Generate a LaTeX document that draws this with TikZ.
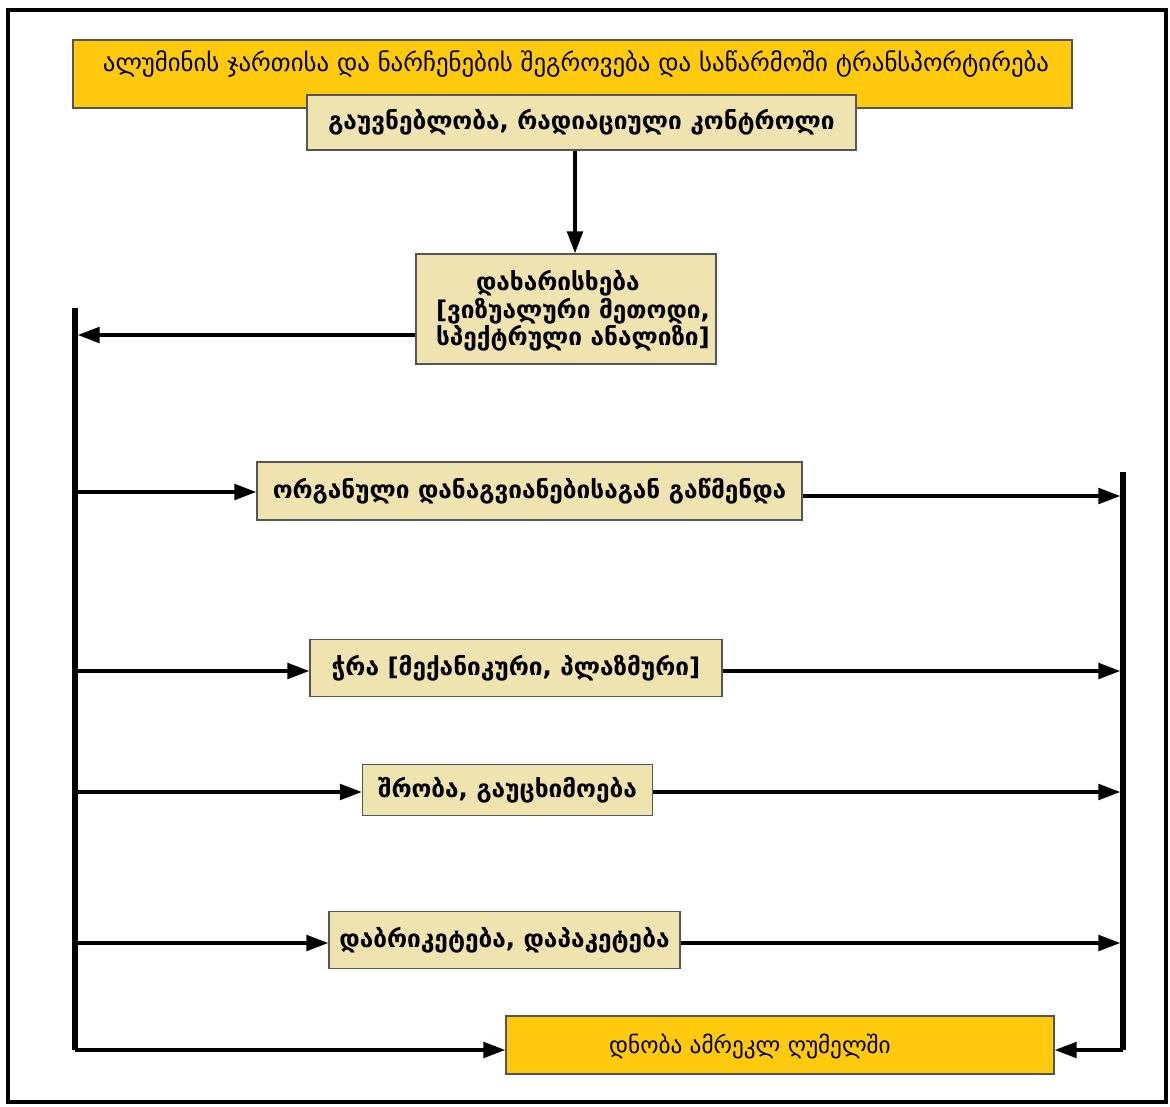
\documentclass[tikz,border=0pt]{standalone}
\usepackage{fontspec}
\setmainfont{DejaVu Sans}
\usetikzlibrary{arrows.meta}
\definecolor{gold}{RGB}{255,201,14}
\definecolor{beige}{RGB}{239,228,176}
\definecolor{edge}{RGB}{85,85,85}
\begin{document}
\begin{tikzpicture}[x=0.75pt,y=-0.75pt,
  goldbox/.style={draw=edge, line width=0.8pt, fill=gold, inner sep=0pt},
  beigebox/.style={draw=edge, line width=0.8pt, fill=beige, inner sep=0pt, font=\fontsize{18.3}{20.5}\bfseries\selectfont},
  goldtext/.style={font=\fontsize{18.6}{21}\selectfont, inner sep=0pt},
  arr/.style={line width=3pt, -{Triangle[length=16.5pt,width=11.5pt]}},
  trunk/.style={line width=3.8pt}]
\useasboundingbox (0,0) rectangle (1170,1106);
\draw[line width=2.5pt] (8,10) rectangle (1166,1102);

% top box
\node[goldbox, minimum width=999*0.75pt, minimum height=68*0.75pt] (b1) at (572.5,74) {};
\node[goldtext] (t1) at (576,64) {ალუმინის ჯართისა და ნარჩენების შეგროვება და საწარმოში ტრანსპორტირება};

\node[beigebox, minimum width=549*0.75pt, minimum height=55*0.75pt] (b2) at (581.5,122.5) {გაუვნებლობა, რადიაციული კონტროლი};

\node[beigebox, minimum width=300*0.75pt, minimum height=110*0.75pt] (b3) at (566,309) {};
\node[font=\fontsize{18.3}{20.5}\bfseries\selectfont, align=left, inner sep=0pt] (t3) at (573,311)
  {\hspace*{30pt}დახარისხება\\{[}ვიზუალური მეთოდი,\\სპექტრული ანალიზი{]}};

\node[beigebox, minimum width=545*0.75pt, minimum height=58*0.75pt] (b4) at (529.5,491) {ორგანული დანაგვიანებისაგან გაწმენდა};
\node[beigebox, minimum width=412*0.75pt, minimum height=57*0.75pt] (b5) at (516,668) {ჭრა [მექანიკური, პლაზმური]};
\node[beigebox, minimum width=290*0.75pt, minimum height=51*0.75pt] (b6) at (507.5,790) {შრობა, გაუცხიმოება};
\node[beigebox, minimum width=351*0.75pt, minimum height=57*0.75pt] (b7) at (504.5,940) {დაბრიკეტება, დაპაკეტება};
\node[goldbox, minimum width=548*0.75pt, minimum height=58*0.75pt] (b8) at (780,1045) {};
\node[goldtext, font=\fontsize{17.4}{20}\selectfont] (t8) at (750,1047) {დნობა ამრეკლ ღუმელში};

% coordinates
\coordinate (ax) at (575,0);
\coordinate (Ltop) at (75,308);
\coordinate (Lbot) at (75,1050);
\coordinate (Rtop) at (1123,472);
\coordinate (Rbot) at (1123,1050);
\coordinate (y3) at (0,335);
\coordinate (y4l) at (0,492);
\coordinate (y4r) at (0,496);
\coordinate (y5) at (0,671);
\coordinate (y6) at (0,792);
\coordinate (y7) at (0,943);

% trunks
\draw[trunk] (Ltop) -- (Lbot);
\draw[trunk] (Rtop) -- (Rbot);

% connectors
\draw[arr] (ax |- b2.south) -- (ax |- b3.north);
\draw[arr, shorten >=1.9pt] (b3.west |- y3) -- (Ltop |- y3);

\draw[arr] (Ltop |- y4l) -- (b4.west |- y4l);
\draw[arr, shorten >=1.9pt] (b4.east |- y4r) -- (Rtop |- y4r);
\draw[arr] (Ltop |- y5) -- (b5.west |- y5);
\draw[arr, shorten >=1.9pt] (b5.east |- y5) -- (Rtop |- y5);
\draw[arr] (Ltop |- y6) -- (b6.west |- y6);
\draw[arr, shorten >=1.9pt] (b6.east |- y6) -- (Rtop |- y6);
\draw[arr] (Ltop |- y7) -- (b7.west |- y7);
\draw[arr, shorten >=1.9pt] (b7.east |- y7) -- (Rtop |- y7);

\draw[arr] (Lbot) -- (Lbot -| b8.west);
\draw[arr] (Rbot) -- (Rbot -| b8.east);
\end{tikzpicture}
\end{document}
